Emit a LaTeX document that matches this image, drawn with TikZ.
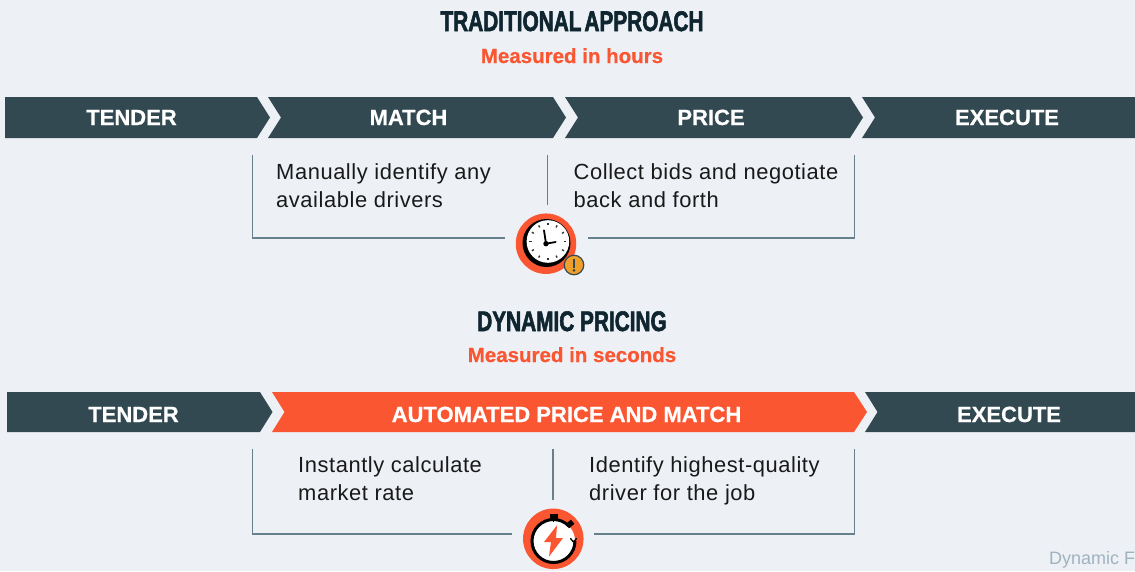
\documentclass[tikz,border=0pt]{standalone}
\usetikzlibrary{calc}
\usepackage{fontspec}
\setmainfont{Liberation Sans}
\newfontfamily\titlefont[FakeStretch=0.735,FakeBold=2]{Liberation Sans Bold}
\newfontfamily\heavyfont[FakeBold=0.6]{Liberation Sans Bold}
\newfontfamily\bodyfont[LetterSpace=2.6]{Liberation Sans}
\definecolor{bgc}{HTML}{EDF1F6}
\definecolor{bandc}{HTML}{324952}
\definecolor{orangec}{HTML}{FB5632}
\definecolor{darkc}{HTML}{0F2630}
\definecolor{linec}{HTML}{66808C}
\definecolor{notec}{HTML}{9FB3BF}
\definecolor{warnc}{HTML}{F0A02A}
\tikzset{
  x=1pt,y=-1pt,
  title/.style={anchor=base,inner sep=0pt,text=darkc,font=\titlefont\fontsize{28.3}{28.3}\selectfont},
  subtitle/.style={anchor=base,inner sep=0pt,text=orangec,font=\heavyfont\fontsize{20.5}{20.5}\selectfont},
  bandlabel/.style={anchor=base,inner sep=0pt,text=white,font=\heavyfont\fontsize{22}{22}\selectfont},
  body/.style={anchor=base west,inner sep=0pt,text=black!90,font=\bodyfont\fontsize{21.9}{21.9}\selectfont},
  bracket/.style={draw=linec,line width=1.7pt},
  bandseg/.style={fill=bandc},
  hot/.style={fill=orangec},
  disc/.style={circle,fill=orangec,minimum size=60.5pt,inner sep=0pt},
}
\begin{document}
\begin{tikzpicture}
\useasboundingbox (0,0) rectangle (1135,571);
\fill[bgc] (0,0) rectangle (1135,571);
% titles
\node[title] (t1) at (572,31) {TRADITIONAL\hspace{-2.8pt} APPROACH};
\node[subtitle] (s1) at (572,63) {Measured in hours};
\node[title] (t2) at (572,331) {DYNAMIC PRICING};
\node[subtitle] (s2) at (572,362) {Measured in seconds};
% top band
\fill[bandseg] (5,97)--(257,97)--(270,117.5)--(257,138)--(5,138)--cycle;
\fill[bandseg] (268,97)--(553,97)--(566,117.5)--(553,138)--(268,138)--(281,117.5)--cycle;
\fill[bandseg] (565,97)--(850,97)--(863,117.5)--(850,138)--(565,138)--(578,117.5)--cycle;
\fill[bandseg] (862,97)--(1135,97)--(1135,138)--(862,138)--(875,117.5)--cycle;
\node[bandlabel] (a1) at (131.5,125) {TENDER};
\node[bandlabel] (a2) at (408.5,125) {MATCH};
\node[bandlabel] (a3) at (711,125) {PRICE};
\node[bandlabel] (a4) at (1007,125) {EXECUTE};
% bottom band
\fill[bandseg] (7,392)--(260,392)--(272.5,412)--(260,432)--(7,432)--cycle;
\fill[hot] (272,392)--(854,392)--(867,412)--(854,432)--(272,432)--(284.5,412)--cycle;
\fill[bandseg] (865,392)--(1135,392)--(1135,432)--(865,432)--(877.5,412)--cycle;
\node[bandlabel] (b1) at (133.5,422) {TENDER};
\node[bandlabel] (b2) at (566.5,422) {AUTOMATED PRICE AND MATCH};
\node[bandlabel] (b3) at (1009,422) {EXECUTE};
% bracket anchors
\coordinate (c1a) at (252.5,155); \coordinate (c1b) at (252.5,238); \coordinate (c1c) at (505,238);
\coordinate (c1d) at (854.5,155); \coordinate (c1e) at (854.5,238); \coordinate (c1f) at (588,238);
\coordinate (c1g) at (547.5,155); \coordinate (c1h) at (547.5,205);
\coordinate (c2a) at (252.5,449); \coordinate (c2b) at (252.5,534); \coordinate (c2c) at (512,534);
\coordinate (c2d) at (854.5,449); \coordinate (c2e) at (854.5,534); \coordinate (c2f) at (594,534);
\coordinate (c2g) at (553,449); \coordinate (c2h) at (553,500);
\draw[bracket] (c1a)--(c1b)--(c1c);
\draw[bracket] (c1d)--(c1e)--(c1f);
\draw[bracket] (c1g)--(c1h);
\draw[bracket] (c2a)--(c2b)--(c2c);
\draw[bracket] (c2d)--(c2e)--(c2f);
\draw[bracket] (c2g)--(c2h);
% body text
\node[body] (m1) at (276,179) {Manually identify any};
\node[body] (m2) at (276,207) {available drivers};
\node[body] (p1) at (573.5,179) {Collect bids and negotiate};
\node[body] (p2) at (573.5,207) {back and forth};
\node[body] (q1) at (298,472) {Instantly calculate};
\node[body] (q2) at (298,500) {market rate};
\node[body] (r1) at (589,472) {Identify highest-quality};
\node[body] (r2) at (589,500) {driver for the job};
% clock icon
\node[disc] (clock) at (546,243.7) {};
\fill[black] (546.5,243) circle (24);
\fill[white] (547.9,241.5) circle (21.3);
\foreach \a in {0,30,...,330}
  \draw[black!80,line width=1.4pt] ($(547.9,241.5)+(\a:18.5)$) -- ($(547.9,241.5)+(\a:16.3)$);
\draw[black,line width=1.8pt,line cap=round] (546,243.7)--(544,230.3);
\draw[black,line width=1.8pt,line cap=round] (546,243.7)--(555.7,242);
\fill[black] (546,243.7) circle (2.7);
\node[circle,fill=warnc,draw=bandc,line width=1.2pt,minimum size=19.5pt,inner sep=0pt] (warn) at (574,265) {};
\fill[bandc] (572.7,259.3) rectangle (575.3,267.5);
\fill[bandc] (574,270.4) circle (1.5);
% stopwatch icon
\node[disc] (watch) at (553.3,538.8) {};
\fill[white] (553.5,541) circle (21.5);
\draw[black,line width=3pt] (575,541) arc[start angle=0,end angle=315,radius=21.5];
\fill[black] (550,513.7) rectangle (558,520);
\draw[black,line width=1.6pt] (553.5,520) -- (553.5,522);
\fill[black,rotate around={40:(570,524)}] (566.5,521.3) rectangle (573.5,526.7);
\draw[black,line width=1.3pt,line cap=round] (570.5,538.5) -- (573.5,542) -- (576.5,538.5);
\fill[orangec] (557,525.3) -- (544,542) -- (551,542) -- (549,556.5) -- (563,538) -- (556,538) -- cycle;
% footer
\node[anchor=base west,inner sep=0pt,text=notec,font=\fontsize{18}{18}\selectfont] (note) at (1049,564) {Dynamic F};
\end{tikzpicture}
\end{document}
